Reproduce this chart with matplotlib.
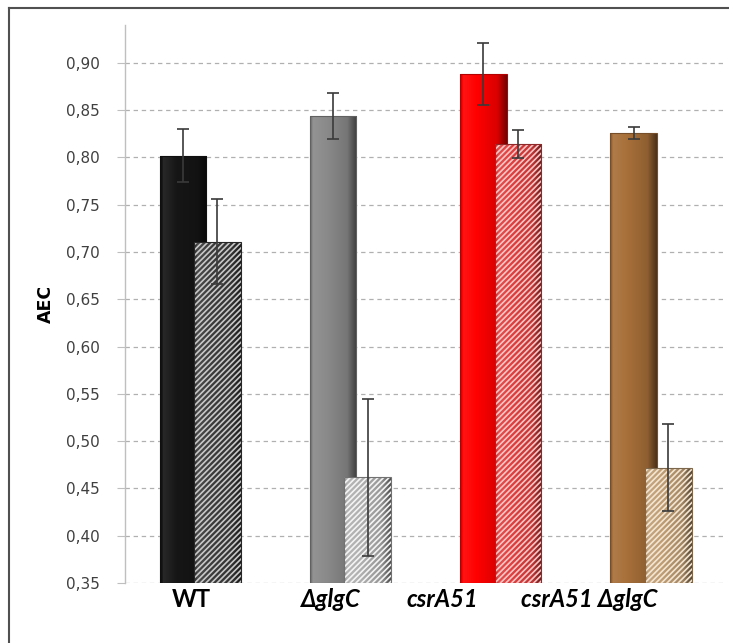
import numpy as np
import matplotlib
matplotlib.use("Agg")
import matplotlib.pyplot as plt
from matplotlib.colors import to_rgb
from matplotlib.lines import Line2D

# data
strains = ["WT", "\u0394glgC", "csrA51", "csrA51 \u0394glgC"]
aec_solid = [0.802, 0.844, 0.888, 0.826]
err_solid = [0.028, 0.024, 0.033, 0.006]
aec_hatch = [0.711, 0.462, 0.814, 0.472]
err_hatch = [0.045, 0.083, 0.015, 0.046]

solid_colors = ["#161616", "#8a8a8a", "#ff0000", "#a8703a"]
hatch_faces = ["#3c3c3c", "#b0b0b0", "#de4040", "#bf9e76"]
hatch_lines = ["#c8c8c8", "#f4f4f4", "#ffc4c4", "#f4e6d2"]
label_italic = [False, True, True, True]
label_shift = [-0.06, -0.13, -0.39, -0.41]

plt.rcParams["font.family"] = ["DejaVu Sans"]
plt.rcParams["hatch.linewidth"] = 1.2


def shade(color, factor):
    c = np.array(to_rgb(color))
    if factor >= 1:
        return c + (1 - c) * (factor - 1)
    return c * factor


def gradient_bar(ax, bar, color):
    x0, y0 = bar.get_x(), bar.get_y()
    w, h = bar.get_width(), bar.get_height()
    t = np.linspace(0, 1, 64)
    f = np.interp(t, [0, 0.06, 0.35, 0.8, 1.0], [0.75, 1.08, 1.0, 0.85, 0.45])
    img = np.array([shade(color, v) for v in f])[None, :, :]
    im = ax.imshow(np.clip(img, 0, 1), extent=(x0, x0 + w, y0, y0 + h),
                   aspect="auto", zorder=bar.get_zorder(), interpolation="bilinear")
    im.set_clip_path(bar)


fig = plt.figure(figsize=(7.29, 6.43), dpi=100)
ax = fig.add_axes([0.1715, 0.0933, 0.8245, 0.8677])

x = np.arange(len(strains))
off, width = 0.115, 0.31
base = 0.35

solid = ax.bar(x - off, np.array(aec_solid) - base, width, bottom=base,
               color=solid_colors, edgecolor="none", zorder=2)
for b, c in zip(solid, solid_colors):
    gradient_bar(ax, b, c)
    ax.bar(b.get_x() + b.get_width() / 2, b.get_height(), b.get_width(), bottom=base,
           facecolor="none", edgecolor=shade(c, 0.7), linewidth=0.8, zorder=2.1)

hatched = ax.bar(x + off, np.array(aec_hatch) - base, width, bottom=base,
                 color=hatch_faces, edgecolor="none", zorder=3)
for b, c in zip(hatched, hatch_faces):
    gradient_bar(ax, b, c)
for b, lc, fc in zip(hatched, hatch_lines, hatch_faces):
    ax.bar(b.get_x() + b.get_width() / 2, b.get_height(), b.get_width(), bottom=base,
           facecolor="none", edgecolor=lc, hatch="//////", linewidth=0, zorder=3.1)
    ax.bar(b.get_x() + b.get_width() / 2, b.get_height(), b.get_width(), bottom=base,
           facecolor="none", edgecolor=shade(fc, 0.65), linewidth=0.8, zorder=3.2)

ax.errorbar(x - off, aec_solid, yerr=err_solid, fmt="none", ecolor="#3a3a3a",
            elinewidth=1.2, capsize=4.5, capthick=1.2, zorder=5)
ax.errorbar(x + off, aec_hatch, yerr=err_hatch, fmt="none", ecolor="#3a3a3a",
            elinewidth=1.2, capsize=4.5, capthick=1.2, zorder=5)

ax.set_xlim(-0.5, 3.5)
ax.set_ylim(0.35, 0.94)
ax.set_yticks(np.arange(0.35, 0.901, 0.05))
ax.set_yticklabels([f"{v:.2f}".replace(".", ",") for v in np.arange(0.35, 0.901, 0.05)],
                   fontsize=11, color="#404040")
ax.yaxis.grid(True, linestyle=(0, (3.5, 3)), color="#b0b0b0", linewidth=0.9, zorder=0)
ax.set_axisbelow(True)
ax.tick_params(axis="y", length=6, width=0.8, color="#bfbfbf", pad=12)
ax.set_xticks([])
for s in ["top", "right", "bottom"]:
    ax.spines[s].set_visible(False)
ax.spines["left"].set_color("#bfbfbf")
ax.spines["left"].set_linewidth(1.0)

ax.set_ylabel("AEC", fontsize=12.5, fontweight="bold", labelpad=8)

for i, (name, it, sh) in enumerate(zip(strains, label_italic, label_shift)):
    ax.text(i + sh, -0.03, name, transform=ax.get_xaxis_transform(),
            ha="center", va="center", fontsize=17, fontweight="bold",
            style="italic" if it else "normal", color="black",
            family=["Lato", "DejaVu Sans"])

# outer frame (top and left visible)
fig.add_artist(Line2D([9 / 729, 1], [1 - 8 / 643, 1 - 8 / 643], color="#505050", lw=1.5))
fig.add_artist(Line2D([9 / 729, 9 / 729], [0, 1 - 8 / 643], color="#505050", lw=1.5))

fig.savefig("out.png", dpi=100)
